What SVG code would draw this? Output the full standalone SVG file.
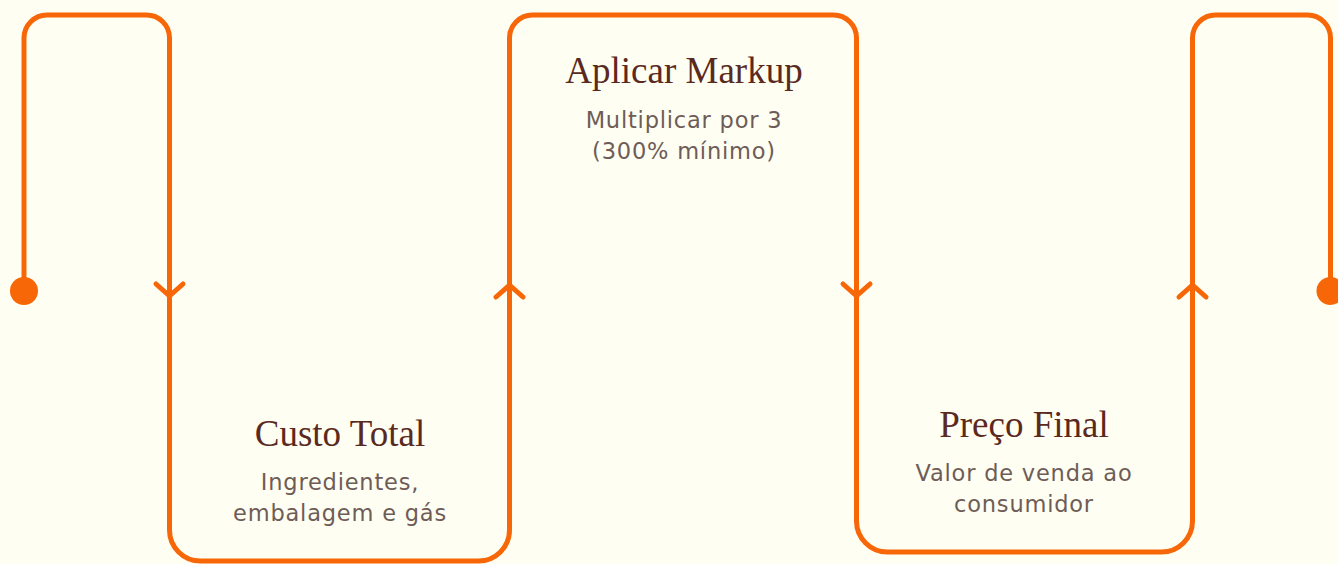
<svg xmlns="http://www.w3.org/2000/svg" width="1338" height="564" viewBox="0 0 1338 564">
<style>
.line{fill:none;stroke:#F76707;stroke-width:5;stroke-linecap:round;stroke-linejoin:round}
.dot{fill:#F76707}
.title{font-family:"Liberation Serif","DejaVu Serif",serif;font-size:37px;fill:#5A2A1E;text-anchor:middle}
.sub{font-family:"DejaVu Sans","Noto Sans",sans-serif;font-size:22.5px;letter-spacing:0.8px;fill:#6E5C57;text-anchor:middle}
</style>
<rect width="1338" height="564" fill="#FFFEF2"/>
<g id="connectors">
<path class="line" d="M24,291 V38 A23,23 0 0 1 47,15 H146.5 A23,23 0 0 1 169.5,38 V530 A31,31 0 0 0 200.5,561 H478.5 A31,31 0 0 0 509.5,530 V38 A23,23 0 0 1 532.5,15 H833.5 A23,23 0 0 1 856.5,38 V521 A31,31 0 0 0 887.5,552 H1161.5 A31,31 0 0 0 1192.5,521 V38 A23,23 0 0 1 1215.5,15 H1307.5 A23,23 0 0 1 1330.5,38 V291"/>
<circle class="dot" cx="24" cy="291" r="14"/>
<circle class="dot" cx="1330.5" cy="291" r="14"/>
<path class="line" d="M156,284 L169.5,296 L183,284"/>
<path class="line" d="M496,297 L509.5,285 L523,297"/>
<path class="line" d="M843,284 L856.5,296 L870,284"/>
<path class="line" d="M1179,297 L1192.5,285 L1206,297"/>
</g>
<g id="node-custo">
<text class="title" x="340" y="446">Custo Total</text>
<text class="sub" x="340" y="490">Ingredientes,</text>
<text class="sub" x="340" y="521">embalagem e gás</text>
</g>
<g id="node-markup">
<text class="title" x="684" y="83">Aplicar Markup</text>
<text class="sub" x="684" y="128">Multiplicar por 3</text>
<text class="sub" x="684" y="159">(300% mínimo)</text>
</g>
<g id="node-preco">
<text class="title" x="1024" y="437">Preço Final</text>
<text class="sub" x="1024" y="481">Valor de venda ao</text>
<text class="sub" x="1024" y="512">consumidor</text>
</g>
</svg>
